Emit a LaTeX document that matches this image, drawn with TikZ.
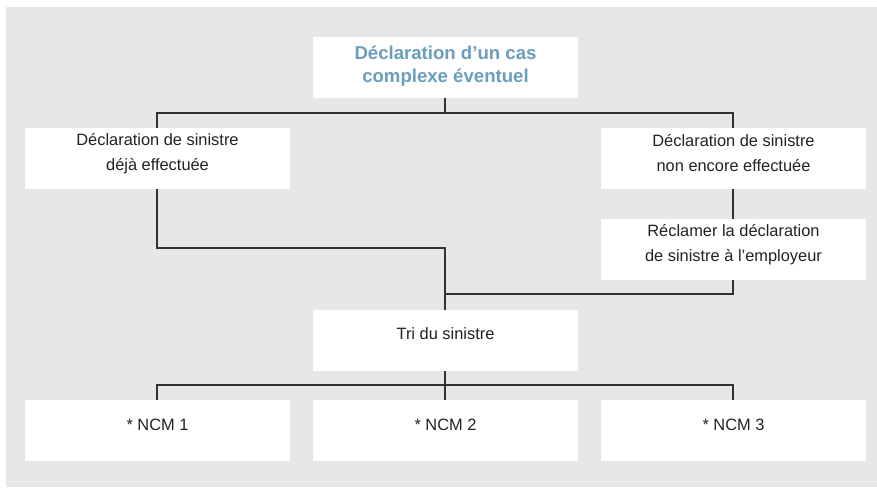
\documentclass[tikz,border=0pt]{standalone}
\usepackage{fontspec}
\setmainfont{Liberation Sans}
\definecolor{panelgray}{HTML}{E6E7E9}
\definecolor{titleblue}{HTML}{6A9EBF}
\definecolor{linegray}{HTML}{333333}
\definecolor{textgray}{HTML}{222222}
\begin{document}
\begin{tikzpicture}[x=1pt,y=-1pt,
  box/.style={draw=none,fill=white,minimum width=265pt,minimum height=61pt,inner sep=0pt,outer sep=0pt},
  txt/.style={align=center,text=textgray,font=\fontsize{16.4}{25}\selectfont,inner sep=0pt},
  ttl/.style={align=center,text=titleblue,font=\fontsize{18.6}{22.5}\selectfont\bfseries,inner sep=0pt},
  link/.style={draw=linegray,line width=1.2pt}]
\useasboundingbox (0,0) rectangle (877,487);
\fill[panelgray] (6,7) rectangle (877,487);

% boxes
\node[box] (top) at (445.5,67.5) {};
\node[box] (left) at (157.5,158.5) {};
\node[box] (right) at (733.5,158.5) {};
\node[box] (claim) at (733.5,249.5) {};
\node[box] (tri) at (445.5,340.5) {};
\node[box] (ncma) at (157.5,430.5) {};
\node[box] (ncmb) at (445.5,430.5) {};
\node[box] (ncmc) at (733.5,430.5) {};

% texts, set slightly above the middle of each box
\node[ttl] (toptxt) at ([yshift=1.5]top.center) {Déclaration d’un cas\\complexe éventuel};
\node[txt] (lefttxt) at ([yshift=5]left.center) {Déclaration de sinistre\\déjà effectuée};
\node[txt] (righttxt) at ([yshift=5]right.center) {Déclaration de sinistre\\non encore effectuée};
\node[txt] (claimtxt) at ([yshift=5]claim.center) {Réclamer la déclaration\\de sinistre à l’employeur};
\node[txt] (tritxt) at ([yshift=6.5]tri.center) {Tri du sinistre};
\node[txt] (ncmatxt) at ([yshift=5.5]ncma.center) {* NCM 1};
\node[txt] (ncmbtxt) at ([yshift=5.5]ncmb.center) {* NCM 2};
\node[txt] (ncmctxt) at ([yshift=5.5]ncmc.center) {* NCM 3};

% junction points
\coordinate (jtop) at (445,113);
\coordinate (jleft) at (445,248);
\coordinate (jright) at (445,294);
\coordinate (jbot) at (445,385);

% connectors
\draw[link] ([xshift=-0.5]top.south) -- (jtop);
\draw[link] ([xshift=-0.5]left.north) |- (jtop) -| ([xshift=-0.5]right.north);
\draw[link] ([xshift=-0.5]left.south) |- (jleft) -- ([xshift=-0.5]tri.north);
\draw[link] ([xshift=-0.5]right.south) -- ([xshift=-0.5]claim.north);
\draw[link] ([xshift=-0.5]claim.south) |- (jright);
\draw[link] ([xshift=-0.5]tri.south) -- (jbot);
\draw[link] ([xshift=-0.5]ncma.north) |- (jbot) -| ([xshift=-0.5]ncmc.north);
\draw[link] (jbot) -- ([xshift=-0.5]ncmb.north);
\end{tikzpicture}
\end{document}
